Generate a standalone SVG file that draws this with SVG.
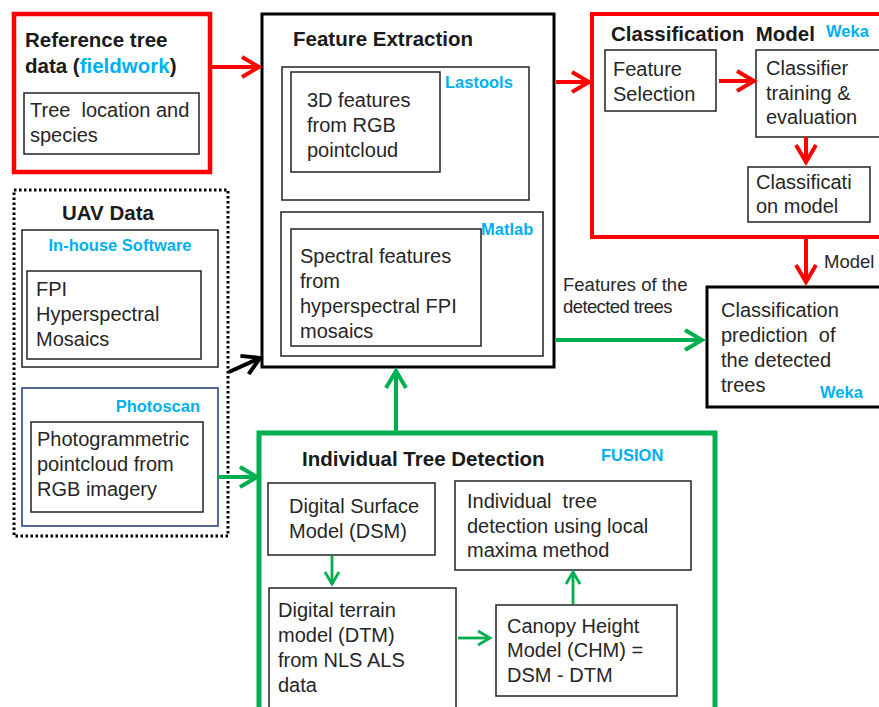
<svg xmlns="http://www.w3.org/2000/svg" width="879" height="707" viewBox="0 0 879 707">
<style>
text{white-space:pre}
.t{font-family:"Liberation Sans",Arial,sans-serif;font-size:20px;fill:#262626}
.b{font-family:"Liberation Sans",Arial,sans-serif;font-size:20.5px;font-weight:bold;fill:#1a1a1a}
.s{font-family:"Liberation Sans",Arial,sans-serif;font-size:16.5px;font-weight:bold;fill:#00b0f0}
.f{font-family:"Liberation Sans",Arial,sans-serif;font-size:18.5px;fill:#262626}
.in{fill:none;stroke:#222;stroke-width:1.5}
.red{fill:none;stroke:#ff0000}
.grn{fill:none;stroke:#00b050}
.blk{fill:none;stroke:#000}
</style>
<defs>
<marker id="mr" markerUnits="userSpaceOnUse" markerWidth="24" markerHeight="24" refX="19" refY="11" orient="auto" viewBox="0 0 24 22">
<path d="M2,1 L19,11 L2,21" fill="none" stroke="#ff0000" stroke-width="4"/>
</marker>
<marker id="mg" markerUnits="userSpaceOnUse" markerWidth="24" markerHeight="24" refX="19" refY="11" orient="auto" viewBox="0 0 24 22">
<path d="M2,1 L19,11 L2,21" fill="none" stroke="#00b050" stroke-width="4"/>
</marker>
<marker id="mgs" markerUnits="userSpaceOnUse" markerWidth="18" markerHeight="18" refX="14" refY="8" orient="auto" viewBox="0 0 18 16">
<path d="M2,1 L14,8 L2,15" fill="none" stroke="#00b050" stroke-width="2.8"/>
</marker>
<marker id="mk" markerUnits="userSpaceOnUse" markerWidth="24" markerHeight="24" refX="19" refY="11" orient="auto" viewBox="0 0 24 22">
<path d="M2,1 L19,11 L2,21" fill="none" stroke="#000" stroke-width="4"/>
</marker>
</defs>
<rect width="879" height="707" fill="#fff"/>

<g id="reference">
<rect x="14" y="14" width="196" height="158" class="red" stroke-width="4.5"/>
<text x="25" y="47" class="b">Reference tree</text>
<text x="25" y="73" class="b">data (<tspan fill="#00b0f0">fieldwork</tspan>)</text>
<rect x="24" y="93" width="175" height="61" class="in"/>
<text x="30" y="117" class="t">Tree  location and</text>
<text x="30" y="142" class="t">species</text>
</g>

<g id="uav">
<rect x="14" y="190" width="214" height="346" fill="none" stroke="#000" stroke-width="3" stroke-dasharray="2.5,2.5"/>
<text x="62" y="220" class="b">UAV Data</text>
<g id="inhouse">
<rect x="22" y="230" width="196" height="137" class="in"/>
<text x="120" y="251" class="s" text-anchor="middle">In-house Software</text>
<rect x="27" y="271" width="174" height="88" class="in"/>
<text x="36" y="296" class="t">FPI</text>
<text x="36" y="321" class="t">Hyperspectral</text>
<text x="36" y="346" class="t">Mosaics</text>
</g>
<g id="photoscan">
<rect x="22" y="388" width="196" height="138" fill="none" stroke="#1f3a7a" stroke-width="1.5"/>
<text x="200" y="412" class="s" text-anchor="end">Photoscan</text>
<rect x="31" y="422" width="172" height="90" class="in"/>
<text x="37" y="446" class="t">Photogrammetric</text>
<text x="37" y="471" class="t">pointcloud from</text>
<text x="37" y="496" class="t">RGB imagery</text>
</g>
</g>

<g id="feature-extraction">
<rect x="262" y="14" width="292" height="353" class="blk" stroke-width="3"/>
<text x="293" y="46" class="b">Feature Extraction</text>
<rect x="282" y="67" width="247" height="133" class="in"/>
<text x="445" y="88" class="s">Lastools</text>
<rect x="291" y="72" width="149" height="100" class="in"/>
<text x="307" y="107" class="t">3D features</text>
<text x="307" y="132" class="t">from RGB</text>
<text x="307" y="157" class="t">pointcloud</text>
<rect x="281" y="212" width="262" height="144" class="in"/>
<text x="481" y="235" class="s">Matlab</text>
<rect x="291" y="229" width="190" height="117" class="in"/>
<text x="300" y="263" class="t">Spectral features</text>
<text x="300" y="288" class="t">from</text>
<text x="300" y="313" class="t">hyperspectral FPI</text>
<text x="300" y="338" class="t">mosaics</text>
</g>

<g id="classification-model">
<rect x="592" y="14" width="300" height="223" class="red" stroke-width="4"/>
<text x="611" y="41" class="b">Classification  Model</text>
<text x="826" y="37" class="s">Weka</text>
<g id="feature-selection">
<rect x="605" y="50" width="111" height="61" class="in"/>
<text x="613" y="76" class="t">Feature</text>
<text x="613" y="101" class="t">Selection</text>
</g>
<g id="classifier-training">
<rect x="756" y="50" width="134" height="87" class="in"/>
<text x="766" y="75" class="t">Classifier</text>
<text x="766" y="100" class="t">training &amp;</text>
<text x="766" y="124" class="t">evaluation</text>
</g>
<g id="classification-model-box">
<rect x="748" y="167" width="122" height="55" class="in"/>
<text x="756" y="189" class="t">Classificati</text>
<text x="756" y="213" class="t">on model</text>
</g>
</g>

<g id="prediction">
<rect x="707" y="287" width="185" height="120" class="blk" stroke-width="3"/>
<text x="721" y="317" class="t">Classification</text>
<text x="721" y="342" class="t">prediction  of</text>
<text x="721" y="367" class="t">the detected</text>
<text x="721" y="392" class="t">trees</text>
<text x="820" y="398" class="s">Weka</text>
</g>

<g id="tree-detection">
<rect x="259" y="433" width="456" height="290" class="grn" stroke-width="5"/>
<text x="302" y="466" class="b">Individual Tree Detection</text>
<text x="601" y="461" class="s">FUSION</text>
<g id="dsm">
<rect x="268" y="483" width="167" height="72" class="in"/>
<text x="289" y="513" class="t">Digital Surface</text>
<text x="289" y="538" class="t">Model (DSM)</text>
</g>
<g id="dtm">
<rect x="269" y="588" width="187" height="130" class="in"/>
<text x="278" y="617" class="t">Digital terrain</text>
<text x="278" y="642" class="t">model (DTM)</text>
<text x="278" y="667" class="t">from NLS ALS</text>
<text x="278" y="692" class="t">data</text>
</g>
<g id="chm">
<rect x="496" y="605" width="181" height="91" class="in"/>
<text x="507" y="633" class="t">Canopy Height</text>
<text x="507" y="657" class="t">Model (CHM) =</text>
<text x="507" y="682" class="t">DSM - DTM</text>
</g>
<g id="itd">
<rect x="455" y="481" width="236" height="89" class="in"/>
<text x="467" y="508" class="t">Individual  tree</text>
<text x="467" y="533" class="t">detection using local</text>
<text x="467" y="557" class="t">maxima method</text>
</g>
</g>

<g id="connectors">
<line x1="212" y1="67" x2="259" y2="67" class="red" stroke-width="4" marker-end="url(#mr)"/>
<line x1="556" y1="82" x2="589" y2="82" class="red" stroke-width="4" marker-end="url(#mr)"/>
<line x1="719" y1="81" x2="754" y2="81" class="red" stroke-width="4" marker-end="url(#mr)"/>
<line x1="806" y1="137" x2="806" y2="162" class="red" stroke-width="4" marker-end="url(#mr)"/>
<line x1="806" y1="239" x2="806" y2="282" class="red" stroke-width="4" marker-end="url(#mr)"/>
<text x="824" y="268" class="f">Model</text>
<line x1="556" y1="340" x2="702" y2="340" class="grn" stroke-width="4" marker-end="url(#mg)"/>
<text x="563" y="291" class="f">Features of the</text>
<text x="563" y="313" class="f" letter-spacing="-0.6">detected trees</text>
<line x1="229" y1="372" x2="260" y2="358" class="blk" stroke-width="4" marker-end="url(#mk)"/>
<line x1="218" y1="477" x2="257" y2="477" class="grn" stroke-width="4" marker-end="url(#mg)"/>
<line x1="396" y1="431" x2="396" y2="371" class="grn" stroke-width="4" marker-end="url(#mg)"/>
<line x1="332" y1="556" x2="332" y2="584" class="grn" stroke-width="2.8" marker-end="url(#mgs)"/>
<line x1="458" y1="638" x2="490" y2="638" class="grn" stroke-width="2.8" marker-end="url(#mgs)"/>
<line x1="573" y1="604" x2="573" y2="572" class="grn" stroke-width="2.8" marker-end="url(#mgs)"/>
</g>
</svg>
